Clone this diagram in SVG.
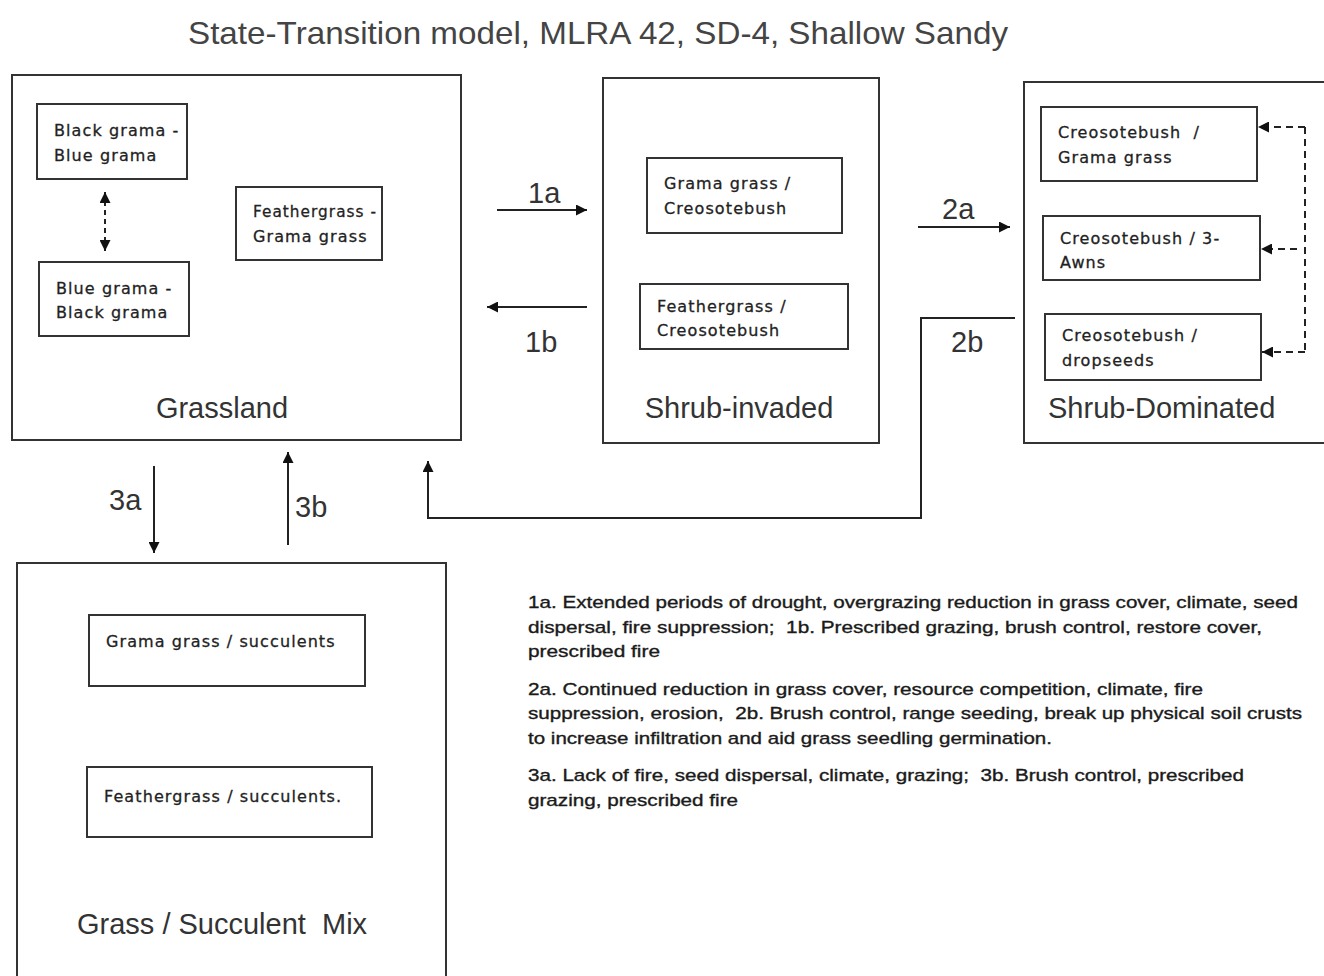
<svg xmlns="http://www.w3.org/2000/svg" width="1324" height="976" viewBox="0 0 1324 976">
<style>
.state{fill:#fff;stroke:#333;stroke-width:2}
.sub{fill:#fff;stroke:#333;stroke-width:2}
.big{font-family:"Liberation Sans",Arial,sans-serif;font-size:29px;fill:#444}
.lbl{font-family:"Liberation Sans",Arial,sans-serif;font-size:29px;fill:#333}
.sm{font-family:"DejaVu Sans",Verdana,sans-serif;font-size:16px;fill:#222;letter-spacing:1.1px;stroke:#222;stroke-width:0.3}
.note{font-family:"Liberation Sans",Arial,sans-serif;font-size:17px;fill:#1a1a1a;stroke:#1a1a1a;stroke-width:0.35}
.conn{fill:none;stroke:#222;stroke-width:2}
.dash{fill:none;stroke:#222;stroke-width:2;stroke-dasharray:7,5}
</style>
<defs>
<marker id="ah" viewBox="0 0 10 10" refX="10" refY="5" markerWidth="11" markerHeight="11" markerUnits="userSpaceOnUse" orient="auto-start-reverse">
<path d="M0,0 L10,5 L0,10 Z" fill="#111"/>
</marker>
</defs>
<rect width="1324" height="976" fill="#fff"/>
<text x="598" y="44" text-anchor="middle" class="big" style="font-size:32px" textLength="820" lengthAdjust="spacingAndGlyphs">State-Transition model, MLRA 42, SD-4, Shallow Sandy</text>

<g id="grassland">
<rect class="state" x="12" y="75" width="449" height="365"/>
<rect class="sub" x="37" y="104" width="150" height="75"/>
<text class="sm" x="54" y="136">Black grama -</text>
<text class="sm" x="54" y="161">Blue grama</text>
<rect class="sub" x="39" y="262" width="150" height="74"/>
<text class="sm" x="56" y="294">Blue grama -</text>
<text class="sm" x="56" y="318">Black grama</text>
<rect class="sub" x="236" y="187" width="146" height="73"/>
<text class="sm" x="253" y="217" textLength="124" lengthAdjust="spacingAndGlyphs">Feathergrass -</text>
<text class="sm" x="253" y="242">Grama grass</text>
<line class="dash" x1="105" y1="192" x2="105" y2="251" style="stroke-dasharray:5,4" marker-start="url(#ah)" marker-end="url(#ah)"/>
<text class="lbl" x="222" y="418" text-anchor="middle">Grassland</text>
</g>

<g id="shrub-invaded">
<rect class="state" x="603" y="78" width="276" height="365"/>
<rect class="sub" x="647" y="158" width="195" height="75"/>
<text class="sm" x="664" y="189">Grama grass /</text>
<text class="sm" x="664" y="214">Creosotebush</text>
<rect class="sub" x="640" y="284" width="208" height="65"/>
<text class="sm" x="657" y="312">Feathergrass /</text>
<text class="sm" x="657" y="336">Creosotebush</text>
<text class="lbl" x="739" y="418" text-anchor="middle">Shrub-invaded</text>
</g>

<g id="shrub-dominated">
<rect class="state" x="1024" y="82" width="310" height="361"/>
<rect class="sub" x="1041" y="107" width="216" height="74"/>
<text class="sm" x="1058" y="138" xml:space="preserve">Creosotebush  /</text>
<text class="sm" x="1058" y="163">Grama grass</text>
<rect class="sub" x="1043" y="216" width="217" height="64"/>
<text class="sm" x="1060" y="244">Creosotebush / 3-</text>
<text class="sm" x="1060" y="268">Awns</text>
<rect class="sub" x="1045" y="314" width="216" height="66"/>
<text class="sm" x="1062" y="341">Creosotebush /</text>
<text class="sm" x="1062" y="366">dropseeds</text>
<path class="dash" d="M1305,127 V352"/>
<path class="dash" d="M1305,127 H1258" marker-end="url(#ah)"/>
<path class="dash" d="M1297,249 H1261" marker-end="url(#ah)"/>
<path class="dash" d="M1305,352 H1262" marker-end="url(#ah)"/>
<text class="lbl" x="1048" y="418">Shrub-Dominated</text>
</g>

<g id="grass-succulent-mix">
<rect class="state" x="17" y="563" width="429" height="430"/>
<rect class="sub" x="89" y="615" width="276" height="71"/>
<text class="sm" x="106" y="647">Grama grass / succulents</text>
<rect class="sub" x="87" y="767" width="285" height="70"/>
<text class="sm" x="104" y="802">Feathergrass / succulents.</text>
<text class="lbl" x="77" y="934" xml:space="preserve">Grass / Succulent  Mix</text>
</g>

<g id="connectors">
<line class="conn" x1="497" y1="210" x2="587" y2="210" marker-end="url(#ah)"/>
<text class="lbl" x="528" y="203">1a</text>
<line class="conn" x1="587" y1="307" x2="487" y2="307" marker-end="url(#ah)"/>
<text class="lbl" x="525" y="352">1b</text>
<line class="conn" x1="918" y1="227" x2="1010" y2="227" marker-end="url(#ah)"/>
<text class="lbl" x="942" y="219">2a</text>
<path class="conn" d="M1015,318 H921 V518 H428 V461" marker-end="url(#ah)"/>
<text class="lbl" x="951" y="352">2b</text>
<line class="conn" x1="154" y1="466" x2="154" y2="553" marker-end="url(#ah)"/>
<text class="lbl" x="109" y="510">3a</text>
<line class="conn" x1="288" y1="545" x2="288" y2="452" marker-end="url(#ah)"/>
<text class="lbl" x="295" y="517">3b</text>
</g>

<g id="notes">
<text class="note" x="528" y="608" textLength="770" lengthAdjust="spacingAndGlyphs">1a. Extended periods of drought, overgrazing reduction in grass cover, climate, seed</text>
<text class="note" x="528" y="633" textLength="734" lengthAdjust="spacingAndGlyphs" xml:space="preserve">dispersal, fire suppression;  1b. Prescribed grazing, brush control, restore cover,</text>
<text class="note" x="528" y="657" textLength="132" lengthAdjust="spacingAndGlyphs">prescribed fire</text>
<text class="note" x="528" y="695" textLength="675" lengthAdjust="spacingAndGlyphs">2a. Continued reduction in grass cover, resource competition, climate, fire</text>
<text class="note" x="528" y="719" textLength="774" lengthAdjust="spacingAndGlyphs" xml:space="preserve">suppression, erosion,  2b. Brush control, range seeding, break up physical soil crusts</text>
<text class="note" x="528" y="744" textLength="524" lengthAdjust="spacingAndGlyphs">to increase infiltration and aid grass seedling germination.</text>
<text class="note" x="528" y="781" textLength="716" lengthAdjust="spacingAndGlyphs" xml:space="preserve">3a. Lack of fire, seed dispersal, climate, grazing;  3b. Brush control, prescribed</text>
<text class="note" x="528" y="806" textLength="210" lengthAdjust="spacingAndGlyphs">grazing, prescribed fire</text>
</g>
</svg>
